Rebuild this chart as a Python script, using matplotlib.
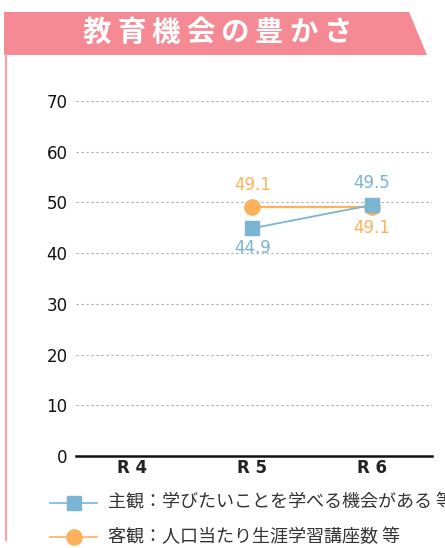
import matplotlib.pyplot as plt
from matplotlib.patches import Polygon
from matplotlib.lines import Line2D

plt.rcParams['font.family'] = ['Noto Sans CJK JP', 'DejaVu Sans']

# データ
categories = ['R 4', 'R 5', 'R 6']
shukan = [None, 44.9, 49.5]   # 主観
kyakkan = [None, 49.1, 49.1]  # 客観
shukan_label = '主観：学びたいことを学べる機会がある 等'
kyakkan_label = '客観：人口当たり生涯学習講座数 等'
title = '教育機会の豊かさ'

blue = '#7ab5d4'
orange = '#fdb15d'
pink = '#f58a95'
numfont = ['DejaVu Sans']

W, H = 445, 548
fig = plt.figure(figsize=(W / 100, H / 100), dpi=100)

def fx(px):
    return px / W

def fy(py):
    return 1 - py / H

# タイトル帯
banner = Polygon([(fx(4), fy(12)), (fx(409), fy(12)), (fx(427), fy(55)), (fx(4), fy(55))],
                 closed=True, transform=fig.transFigure, color=pink, lw=0)
fig.patches.append(banner)
fig.add_artist(Line2D([fx(6), fx(6)], [fy(55), fy(540)], color='#f7a3ad', lw=1.6))
for i, ch in enumerate(title):
    fig.text(fx(97 + i * 34.4), fy(33), ch, color='white', fontsize=20.5,
             ha='center', va='center', fontweight='bold')

ax = fig.add_axes([fx(76), fy(456), fx(432) - fx(76), fy(101) - fy(456)])
x = list(range(len(categories)))

xs = [i for i, v in zip(x, shukan) if v is not None]
ys = [v for v in shukan if v is not None]
xk = [i for i, v in zip(x, kyakkan) if v is not None]
yk = [v for v in kyakkan if v is not None]

ax.plot(xk, yk, color=orange, lw=1.6, marker='o', ms=11, zorder=3)
ax.plot(xs, ys, color=blue, lw=1.3, marker='s', ms=10, zorder=4)

# 値ラベル
kw = dict(textcoords='offset points', ha='center', fontsize=12, family=numfont)
ax.annotate(f'{yk[0]}', (xk[0], yk[0]), xytext=(0, 9), va='bottom', color=orange, **kw)
ax.annotate(f'{yk[1]}', (xk[1], yk[1]), xytext=(0, -9), va='top', color=orange, **kw)
ax.annotate(f'{ys[0]}', (xs[0], ys[0]), xytext=(0, -8), va='top', color=blue, **kw)
ax.annotate(f'{ys[1]}', (xs[1], ys[1]), xytext=(0, 9), va='bottom', color=blue, **kw)

ax.set_xlim(-0.47, 2.5)
ax.set_ylim(0, 70)
ax.set_yticks(range(0, 71, 10))
ax.set_yticklabels([str(v) for v in range(0, 71, 10)], family=numfont, fontsize=12)
ax.set_xticks(x)
ax.set_xticklabels(categories, fontsize=12, fontweight='bold', color='#222222', family=numfont)
ax.tick_params(axis='y', length=0, pad=6, labelcolor='#111111')
ax.tick_params(axis='x', length=0, pad=2)
for s in ['top', 'right', 'left']:
    ax.spines[s].set_visible(False)
ax.spines['bottom'].set_linewidth(1.8)
ax.spines['bottom'].set_color('#111111')
ax.spines['bottom'].set_zorder(5)
for v in range(10, 71, 10):
    ax.axhline(v, color='#aaaaaa', lw=0.8, ls=(0, (2, 2.5)), zorder=1)

# 凡例
for py, col, mk, ms, lab in [(503, blue, 's', 10, shukan_label), (537, orange, 'o', 11, kyakkan_label)]:
    fig.add_artist(Line2D([fx(50), fx(97)], [fy(py), fy(py)], color=col, lw=1.2))
    fig.add_artist(Line2D([fx(74)], [fy(py)], color=col, marker=mk, ms=ms, lw=0))
    fig.text(fx(108), fy(py), lab, fontsize=13, color='#333333', va='center', ha='left')

fig.savefig('out.png', dpi=100)
